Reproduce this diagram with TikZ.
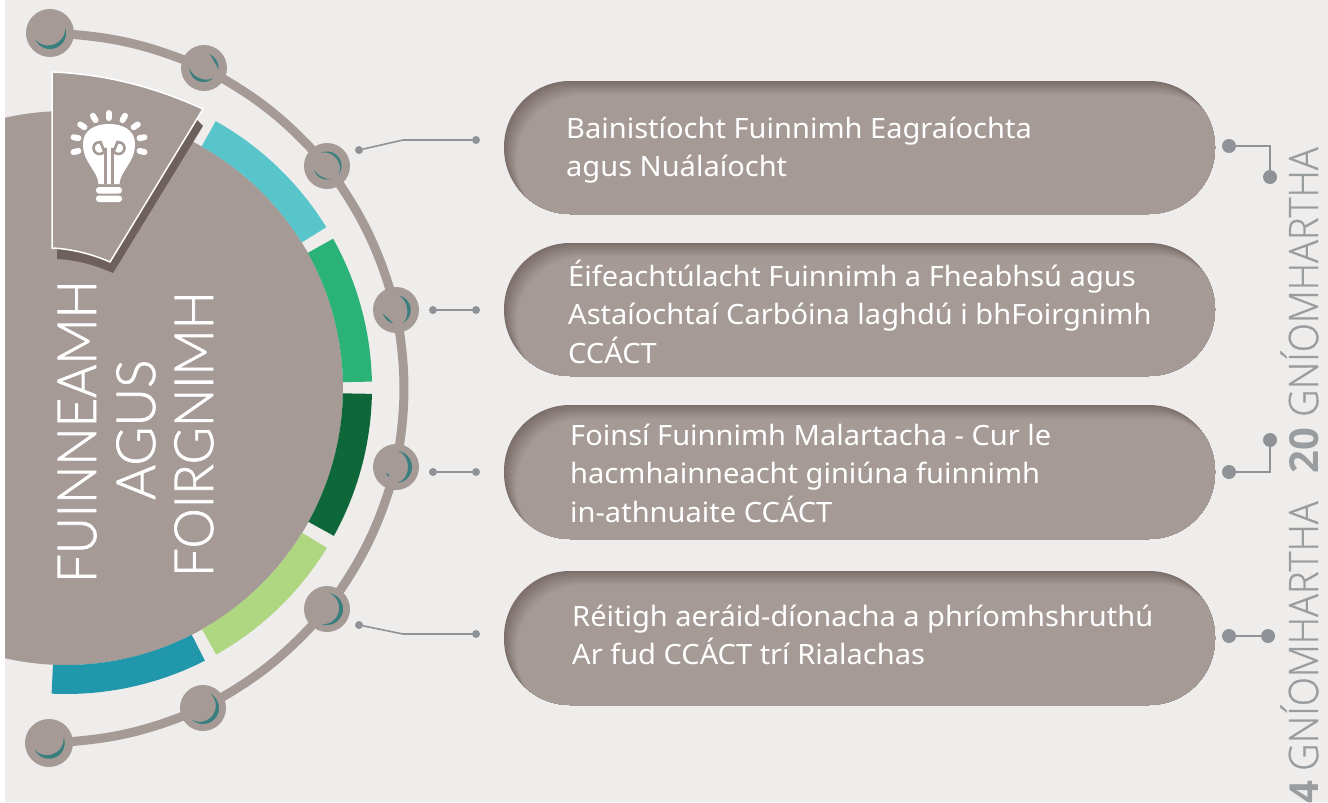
\documentclass[tikz,border=0pt]{standalone}
\usepackage{fontspec}
\setmainfont{Noto Sans}[FakeStretch=1.037]
\newfontfamily\bigfont{Lato Light}[FakeStretch=0.94,FakeBold=1.4]
\newfontfamily\bigfontb{Lato Light}[FakeStretch=0.985,FakeBold=1.4]
\newfontfamily\sidefont{Open Sans Light}[FakeStretch=0.94,FakeBold=0.8]
\newfontfamily\sidebold{Open Sans}[UprightFont=* Bold]
\usetikzlibrary{calc}
\definecolor{basec}{HTML}{A59A95}
\definecolor{shadc}{HTML}{7C6F6B}
\definecolor{wedgesh}{HTML}{6E605C}
\definecolor{bgc}{HTML}{EEEDEB}
\definecolor{cresc}{HTML}{3A7F80}
\definecolor{linkc}{HTML}{8F9296}
\definecolor{sidec}{HTML}{9A9DA0}
\definecolor{cyanc}{HTML}{57C5C9}
\definecolor{greenc}{HTML}{2BB276}
\definecolor{dgreenc}{HTML}{0D6738}
\definecolor{lgreenc}{HTML}{AFD781}
\definecolor{tealc}{HTML}{2097AB}
\tikzset{
  hub/.style={circle,fill=basec,inner sep=0pt,minimum size=46pt},
  hubbig/.style={circle,fill=basec,inner sep=0pt,minimum size=48pt},
  hubline/.style={draw=basec,line width=9pt},
  dotS/.style={circle,fill=linkc,inner sep=0pt,minimum size=8pt},
  dotL/.style={circle,fill=linkc,inner sep=0pt,minimum size=14pt},
  linkline/.style={draw=linkc,line width=1.6pt},
  pilltext/.style={anchor=north west,align=left,inner sep=0pt,text=white,font=\fontsize{28}{38.2}\selectfont},
  bigtext/.style={rotate=90,anchor=base west,inner sep=0pt,text=white,font=\bigfont\fontsize{54}{54}\selectfont},
  bigtextb/.style={rotate=90,anchor=base west,inner sep=0pt,text=white,font=\bigfontb\fontsize{54}{54}\selectfont},
  sidetext/.style={rotate=90,anchor=base west,inner sep=0pt,text=sidec,font=\sidefont\fontsize{40.5}{40.5}\selectfont},
  sidenum/.style={rotate=90,anchor=base west,inner sep=0pt,text=sidec,font=\sidebold\fontsize{40}{40}\selectfont},
  ray/.style={line width=6pt,line cap=round,white},
  fil/.style={draw=basec,line width=2.6pt},
}
\newcommand{\ringseg}[3]{\fill[#3] (#1:277pt) arc[start angle=#1,end angle=#2,radius=277pt] -- (#2:306pt) arc[start angle=#2,end angle=#1,radius=306pt] -- cycle;}
\newcommand{\crsc}[6]{\begin{scope}[shift={(#1,#2)},x=1pt,y=1pt]
\fill[cresc] plot[variable=\t,domain=#4:#5,samples=30] (\t:{#3}) -- plot[variable=\t,domain=#5:#4,samples=30] (\t:{#3-#6*sin((\t-#4)/(#5-#4)*180)}) -- cycle;
\end{scope}}
\newcommand{\pillbg}[2]{\begin{scope}
\clip[rounded corners=66pt] (504,#1) rectangle (1215,#2);
\fill[shadc] (504,#1) rectangle (1215,#2);
\foreach \i in {1,...,14}{
  \pgfmathsetmacro{\m}{100*\i/14}
  \fill[basec!\m!shadc,rounded corners=66pt,xshift=\i*0.9pt,yshift=-\i*1.0pt] (504,#1) rectangle (1215,#2);
}
\end{scope}}
\begin{document}
\begin{tikzpicture}[x=1pt,y=-1pt]
\useasboundingbox (0,0) rectangle (1328,803);
\fill[white] (0,0) rectangle (1328,803);
\fill[bgc] (5,0) rectangle (1328,802);
% main disc
\begin{scope}
\clip (5,0) rectangle (1328,803);
\fill[basec] (66,388) circle[radius=277pt];
\end{scope}
% ring
\begin{scope}[shift={(66,388)},x=1pt,y=1pt]
\ringseg{60.7}{31.7}{cyanc}
\ringseg{29.2}{1.2}{greenc}
\ringseg{-1.1}{-28.9}{dgreenc}
\ringseg{-31.5}{-60.6}{lgreenc}
\ringseg{-63}{-92.7}{tealc}
\end{scope}
% arc nodes
\node[hubbig] (h1) at (50,33) {};
\node[hub] (h2) at (204,68) {};
\node[hub] (h3) at (327,166) {};
\node[hub] (h4) at (396,310) {};
\node[hub] (h5) at (396,467) {};
\node[hub] (h6) at (327,609) {};
\node[hub] (h7) at (203,708) {};
\node[hubbig] (h8) at (49,743) {};
\draw[hubline] (h1.center) to[bend left=10] (h2.center);
\draw[hubline] (h2.center) to[bend left=10] (h3.center);
\draw[hubline] (h3.center) to[bend left=10] (h4.center);
\draw[hubline] (h4.center) to[bend left=10] (h5.center);
\draw[hubline] (h5.center) to[bend left=10] (h6.center);
\draw[hubline] (h6.center) to[bend left=10] (h7.center);
\draw[hubline] (h7.center) to[bend left=10] (h8.center);
\crsc{50}{33}{16}{20}{-156}{4}
\crsc{203.5}{68}{15}{68}{-8}{2.5}
\crsc{203.5}{68}{14}{180}{316}{3}
\crsc{327}{166}{14.5}{115}{-37}{2.5}
\crsc{327}{166}{13.5}{195}{288}{1.5}
\crsc{396}{310}{14.7}{79}{-61}{3.5}
\crsc{396}{310}{13.5}{195}{259}{2}
\crsc{396}{467}{16}{82}{-84}{4}
\crsc{396}{467}{12}{211}{236}{1.5}
\crsc{327}{609}{16}{82}{-110}{4}
\crsc{203}{708}{16}{63}{-132}{4}
\crsc{49}{743}{15.7}{23}{-155}{4}
% wedge
\fill[wedgesh] (57,248) -- (57,259) .. controls (77,260) and (95,265) .. (113,273) -- (203,126) -- (197,120) -- cycle;
\draw[white,fill=basec,line width=1.5pt,line join=miter] (52,72) .. controls (105,74) and (155,87) .. (203,109) -- (110,262) .. controls (92,254) and (72,249) .. (52,248) -- cycle;
% bulb
\foreach \a/\r in {90/28,60/29.5,33.5/32,10/33.5,-13.6/34,120/29.5,146.5/32,170/33.5,193.6/34}{
  \begin{scope}[shift={(109,143.5)},x=1pt,y=1pt]
  \draw[ray] (\a:{\r-2.5}) -- (\a:{\r+2.5});
  \end{scope}
}
\fill[white] (98.5,184) .. controls (97.5,170) and (83,163) .. (83,144) .. controls (83,130) and (95,124) .. (109,124) .. controls (123,124) and (135,130) .. (135,144) .. controls (135,163) and (120.5,170) .. (119.5,184) -- cycle;
\draw[fil] (105.5,184) -- (105.5,148) arc[start angle=0,end angle=-280,radius=6pt] -- (105.5,154.5);
\draw[fil] (112.5,184) -- (112.5,148) arc[start angle=180,end angle=460,radius=6pt] -- (112.5,154.5);
\fill[white,rounded corners=3pt] (96,187) rectangle (122,193.5);
\fill[white,rounded corners=3pt] (96,195.5) rectangle (122,202);
% big title
\node[bigtext] (t1) at (96,583) {FUINNEAMH};
\node[bigtextb] (t2) at (155,500) {AGUS};
\node[bigtext] (t3) at (213,577) {FOIRGNIMH};
% left links
\node[dotS] (a1) at (359,150) {};
\coordinate (a1k) at (403,140);
\node[dotS] (b1) at (476,140) {};
\draw[linkline] (a1) -- (a1k) -- (b1);
\node[dotS] (a2) at (433,310) {};
\node[dotS] (b2) at (476,310) {};
\draw[linkline] (a2) -- (b2);
\node[dotS] (a3) at (433,472) {};
\node[dotS] (b3) at (476,472) {};
\draw[linkline] (a3) -- (b3);
\node[dotS] (a4) at (359,625) {};
\coordinate (a4k) at (403,634);
\node[dotS] (b4) at (476,634) {};
\draw[linkline] (a4) -- (a4k) -- (b4);
% pills
\pillbg{81}{214}
\pillbg{243}{376}
\pillbg{405}{539}
\pillbg{571}{705}
\node[pilltext] (p1) at (566,116.5) {Bainistíocht Fuinnimh Eagraíochta\\agus Nuálaíocht};
\node[pilltext] (p2) at (568,260) {Éifeachtúlacht Fuinnimh a Fheabhsú agus\\Astaíochtaí Carbóina laghdú i bhFoirgnimh\\CCÁCT};
\node[pilltext] (p3) at (570,424) {Foinsí Fuinnimh Malartacha - Cur le\\hacmhainneacht giniúna fuinnimh\\in-athnuaite CCÁCT};
\node[pilltext] (p4) at (572,605) {Réitigh aeráid-díonacha a phríomhshruthú\\Ar fud CCÁCT trí Rialachas};
% right links
\node[dotL] (r1) at (1229,146) {};
\coordinate (r1k) at (1270,146);
\node[dotL] (s1) at (1270,177) {};
\draw[linkline] (r1) -- (r1k) -- (s1);
\node[dotL] (r2) at (1229,472) {};
\coordinate (r2k) at (1270,472);
\node[dotL] (s2) at (1270,440) {};
\draw[linkline] (r2) -- (r2k) -- (s2);
\node[dotL] (r3) at (1229,636) {};
\node[dotL] (s3) at (1268,636) {};
\draw[linkline] (r3) -- (s3);
% side text
\node[sidenum] (n4) at (1318,804) {4};
\node[sidetext] (g4) at (1318,771) {GNÍOMHARTHA};
\node[sidenum] (n20) at (1318,474) {20};
\node[sidetext] (g20) at (1318,417) {GNÍOMHARTHA};
\end{tikzpicture}
\end{document}
